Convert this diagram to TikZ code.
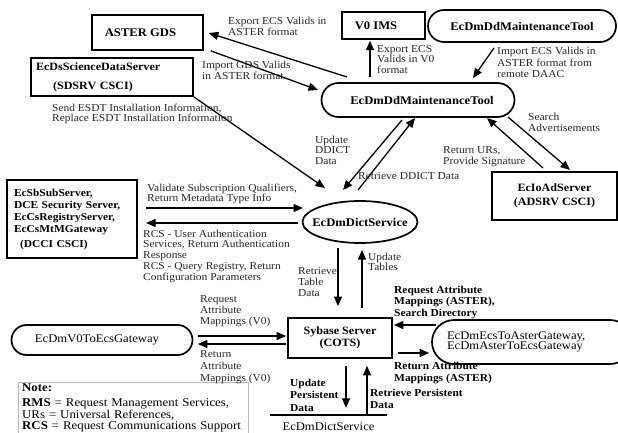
\documentclass[tikz,border=0pt]{standalone}
\usepackage{fontspec}
\setmainfont{Liberation Serif}[FakeStretch=1.08]
\usetikzlibrary{arrows.meta,shapes.geometric,calc}

\begin{document}
\begin{tikzpicture}[x=1pt,y=-1pt,
  boxline/.style={draw, line width=1.7pt},
  sq/.style={boxline, rectangle, inner sep=0pt},
  bx/.style={font=\fontsize{11.2}{12.5}\selectfont\bfseries},
  bxl/.style={font=\fontsize{11.7}{13}\selectfont\bfseries},
  gw/.style={font=\fontsize{11.7}{10.5}\selectfont},
  lbl/.style={font=\fontsize{10.6}{10.8}\selectfont, align=left, anchor=north west,
    inner sep=0pt, text=black!85},
  lblb/.style={lbl, font=\fontsize{10.6}{12}\selectfont\bfseries, text=black},
  arr/.style={line width=1.3pt, -{Triangle[length=9.5pt,width=8pt]}},
]
\useasboundingbox (0,0) rectangle (618,433);
\clip (0,0) rectangle (618,433);

% ---------- processes and external components ----------
\node[sq, bxl, minimum width=111pt, minimum height=35pt] (aster) at (147.5,32.5)
  {ASTER GDS\hspace*{14pt}};
\node[sq, bx, line width=2.1pt, minimum width=162pt, minimum height=38pt,
  text width=152pt, align=left] (sdsrv) at (112,77)
  {EcDsScienceDataServer\\[6.5pt]\hspace*{17pt}(SDSRV CSCI)};
\node[sq, bxl, line width=1.4pt, minimum width=83pt, minimum height=27pt] (v0) at (383.5,25.5)
  {V0 IMS\hspace*{15pt}};
\node[sq, bxl, rounded corners=16pt, minimum width=188pt, minimum height=32pt] (toolTR)
  at (522,26) {EcDmDdMaintenanceTool};
\node[sq, bxl, rounded corners=17pt, minimum width=193pt, minimum height=34pt] (tool)
  at (418,100) {\hspace*{8pt}EcDmDdMaintenanceTool};
\node[ellipse, boxline, bxl, minimum width=115pt, minimum height=42pt, inner sep=0pt] (dict)
  at (360,222) {\makebox[70pt][c]{EcDmDictService}};
\node[sq, line width=2.1pt, minimum width=130pt, minimum height=78pt, text width=116pt,
  align=left, font=\fontsize{10.6}{12}\selectfont\bfseries] (dcci) at (72,219)
  {EcSbSubServer,\\DCE Security Server,\\EcCsRegistryServer,\\EcCsMtMGateway\\[3pt]\hspace*{6pt}(DCCI CSCI)};
\node[sq, bx, minimum width=125pt, minimum height=48pt, align=center] (adsrv) at (554.5,196)
  {EcIoAdServer\\[1.5pt](ADSRV CSCI)};
\node[sq, bx, minimum width=104pt, minimum height=40pt, align=center] (syb) at (340,338)
  {Sybase Server\\(COTS)};
\node[sq, gw, rounded corners=15pt, minimum width=181pt, minimum height=30pt] (v0gw)
  at (102,340) {EcDmV0ToEcsGateway\hspace*{10pt}};
\node[sq, gw, rounded corners=22pt, minimum width=200pt, minimum height=44pt,
  text width=170pt, inner xsep=15pt, align=left] (astergw) at (532,342)
  {EcDmEcsToAsterGateway,\\EcDmAsterToEcsGateway};

% ---------- data store ----------
\node[font=\fontsize{11.7}{13}\selectfont, minimum width=117pt, minimum height=24pt,
  inner sep=0pt] (store) at (328.5,427) {EcDmDictService};
\draw[line width=1.8pt] (store.north west) -- (store.north east);

% ---------- note ----------
\node[anchor=north west, inner xsep=4pt, inner ysep=1.2pt, align=left,
  font=\fontsize{11.9}{10.5}\selectfont, text width=222pt] (note) at (18,382)
  {\textbf{Note:}\\[5pt]\textbf{RMS} = Request Management Services,\\URs = Universal References,\\\textbf{RCS} = Request Communications Support};
\draw[gray!55, line width=1pt] ($(note.north west)+(0,70)$) -- (note.north west)
  -- (note.north east) -- ($(note.north east)+(0,70)$);

% ---------- flows ----------
\draw[arr] ($(tool)+(-71,-23)$) -- ($(aster.east)+(5,0.5)$);
\draw[arr] ($(aster.south east)+(7,0)$) -- ($(tool)+(-100,-10)$);
\draw[arr] ($(tool)+(-48,-23)$) -- ($(v0.south)+(-13.5,1)$);
\draw[arr] ($(toolTR)+(-28,22)$) -- ($(tool)+(55,-22)$);
\draw[arr] ($(tool)+(-16,20)$) -- ($(dict)+(-17,-32)$);
\draw[arr] ($(dict)+(-2,-32)$) -- ($(tool)+(-3,18)$);
\draw[arr] ($(adsrv)+(-11.5,-28)$) -- ($(tool)+(69,18)$);
\draw[arr] ($(tool)+(90,17)$) -- ($(adsrv)+(15.5,-26)$);
\draw[arr] (sdsrv.south east) -- ($(dict)+(-35,-34)$);
\draw[arr] ($(dcci.east)+(8,-11)$) -- ($(dict)+(-57,-14)$);
\draw[arr] ($(dict.west)+(-4,1)$) -- ($(dcci.east)+(8,4)$);
\draw[arr] ($(dict)+(-22,26)$) -- ($(syb.north)+(-2,-11)$);
\draw[arr] ($(syb.north)+(22,-9)$) -- ($(dict)+(2,28)$);
\draw[arr] ($(v0gw.east)+(4.5,-4)$) -- ($(syb.west)+(-1,-2)$);
\draw[arr] ($(syb.west)+(-1,6)$) -- ($(v0gw.east)+(4.5,4)$);
\draw[arr] ($(astergw.west)+(5,-17)$) -- ($(syb.east)+(1,-13)$);
\draw[arr] ($(syb.east)+(5,15)$) -- ($(astergw.west)+(-2,11)$);
\draw[arr] ($(syb.south)+(6,7)$) -- ($(store.north)+(17.5,-7)$);
\draw[arr] ($(store.north)+(38.5,-1)$) -- ($(syb.south)+(27,7)$);

% ---------- flow labels ----------
\node[lbl] (l1) at (228,17) {Export ECS Valids in\\ASTER format};
\node[lbl] (l2) at (202,61) {Import GDS Valids\\in ASTER format};
\node[lbl] (l3) at (52,103.5) {Send ESDT Installation Information,\\Replace ESDT Installation Information};
\node[lbl, font=\fontsize{10.6}{10.2}\selectfont] (l4) at (377,45.5) {Export ECS\\Valids in V0\\format};
\node[lbl, font=\fontsize{10.6}{11.5}\selectfont] (l5) at (497,47) {Import ECS Valids in\\ASTER format from\\remote DAAC};
\node[lbl] (l6) at (315,135.5) {Update\\DDICT\\Data};
\node[lbl] (l7) at (358,172.5) {Retrieve DDICT Data};
\node[lbl, font=\fontsize{10.6}{11.5}\selectfont] (l8) at (528,112.5) {Search\\Advertisements};
\node[lbl] (l9) at (443,146.5) {Return URs,\\Provide Signature};
\node[lbl] (l10) at (147,183.5) {Validate Subscription Qualifiers,\\Return Metadata Type Info};
\node[lbl] (l11) at (143,229.5) {RCS - User Authentication\\Services, Return Authentication\\Response\\RCS - Query Registry, Return\\Configuration Parameters};
\node[lbl] (l12) at (298,267.5) {Retrieve\\Table\\Data};
\node[lbl] (l13) at (368,252.5) {Update\\Tables};
\node[lbl] (l14) at (200,295.5) {Request\\Attribute\\Mappings (V0)};
\node[lbl, font=\fontsize{10.6}{11.8}\selectfont] (l15) at (200,350.5) {Return\\Attribute\\Mappings (V0)};
\node[lblb, font=\fontsize{10.6}{11.7}\selectfont\bfseries] (l16) at (394,285.5) {Request Attribute\\Mappings (ASTER),\\Search Directory};
\node[lblb] (l17) at (394,362) {Return Attribute\\Mappings (ASTER)};
\node[lblb, font=\fontsize{10.6}{12.5}\selectfont\bfseries] (l18) at (290,378.5) {Update\\Persistent\\Data};
\node[lblb, font=\fontsize{10.6}{12.7}\selectfont\bfseries] (l19) at (370,388.5) {Retrieve Persistent\\Data};
\end{tikzpicture}
\end{document}
